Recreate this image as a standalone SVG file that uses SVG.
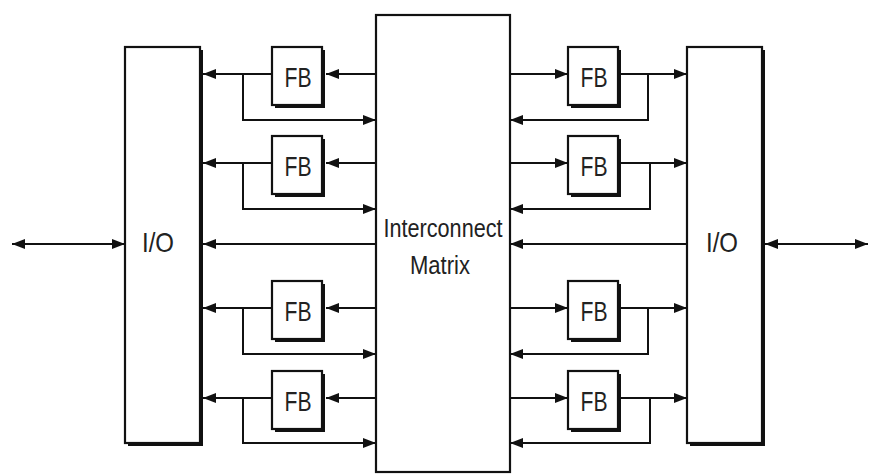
<svg xmlns="http://www.w3.org/2000/svg" width="872" height="475" viewBox="0 0 872 475">
<defs>
<marker id="ah" viewBox="0 0 13 10" refX="13" refY="5" markerWidth="13" markerHeight="10" markerUnits="userSpaceOnUse" orient="auto-start-reverse">
<path d="M0,0 L13,5 L0,10 z" fill="#111"/>
</marker>
<style>
.box{fill:#fff;stroke:#111;stroke-width:2.2}
.sh{fill:#111}
.ln{fill:none;stroke:#111;stroke-width:2}
.t{font-family:"Liberation Sans",Arial,sans-serif;fill:#222;text-anchor:middle}
</style>
</defs>
<rect width="872" height="475" fill="#fff"/>
<g id="io-left">
<rect class="sh" x="128" y="50" width="75" height="396"/>
<rect class="box" x="125" y="47" width="75" height="396"/>
<text class="t" x="158" y="252" font-size="28" textLength="32" lengthAdjust="spacingAndGlyphs">I/O</text>
</g>
<g id="matrix">
<rect class="box" x="376" y="15" width="134" height="457"/>
<text class="t" x="443" y="237" font-size="26" textLength="119" lengthAdjust="spacingAndGlyphs">Interconnect</text>
<text class="t" x="440" y="274" font-size="26" textLength="60" lengthAdjust="spacingAndGlyphs">Matrix</text>
</g>
<g id="io-right">
<rect class="sh" x="690" y="50" width="75" height="396"/>
<rect class="box" x="687" y="47" width="75" height="396"/>
<text class="t" x="722" y="252" font-size="28" textLength="32" lengthAdjust="spacingAndGlyphs">I/O</text>
</g>
<g id="fb-l1"><rect class="sh" x="275" y="50" width="50" height="58"/><rect class="box" x="272" y="47" width="50" height="58"/><text class="t" x="298" y="87" font-size="28" textLength="27" lengthAdjust="spacingAndGlyphs">FB</text></g>
<g id="fb-l2"><rect class="sh" x="275" y="139" width="50" height="58"/><rect class="box" x="272" y="136" width="50" height="58"/><text class="t" x="298" y="176" font-size="28" textLength="27" lengthAdjust="spacingAndGlyphs">FB</text></g>
<g id="fb-l3"><rect class="sh" x="275" y="284" width="50" height="58"/><rect class="box" x="272" y="281" width="50" height="58"/><text class="t" x="298" y="321" font-size="28" textLength="27" lengthAdjust="spacingAndGlyphs">FB</text></g>
<g id="fb-l4"><rect class="sh" x="275" y="374" width="50" height="58"/><rect class="box" x="272" y="371" width="50" height="58"/><text class="t" x="298" y="411" font-size="28" textLength="27" lengthAdjust="spacingAndGlyphs">FB</text></g>
<g id="fb-r1"><rect class="sh" x="571" y="50" width="50" height="58"/><rect class="box" x="568" y="47" width="50" height="58"/><text class="t" x="594" y="87" font-size="28" textLength="27" lengthAdjust="spacingAndGlyphs">FB</text></g>
<g id="fb-r2"><rect class="sh" x="571" y="139" width="50" height="58"/><rect class="box" x="568" y="136" width="50" height="58"/><text class="t" x="594" y="176" font-size="28" textLength="27" lengthAdjust="spacingAndGlyphs">FB</text></g>
<g id="fb-r3"><rect class="sh" x="571" y="284" width="50" height="58"/><rect class="box" x="568" y="281" width="50" height="58"/><text class="t" x="594" y="321" font-size="28" textLength="27" lengthAdjust="spacingAndGlyphs">FB</text></g>
<g id="fb-r4"><rect class="sh" x="571" y="374" width="50" height="58"/><rect class="box" x="568" y="371" width="50" height="58"/><text class="t" x="594" y="411" font-size="28" textLength="27" lengthAdjust="spacingAndGlyphs">FB</text></g>
<g id="connectors">
<path class="ln" d="M12,244 H125" marker-start="url(#ah)" marker-end="url(#ah)"/>
<path class="ln" d="M765,244 H868" marker-start="url(#ah)" marker-end="url(#ah)"/>
<path class="ln" d="M376,244 H203" marker-end="url(#ah)"/>
<path class="ln" d="M687,244 H510" marker-end="url(#ah)"/>
<path class="ln" d="M376,74 H326" marker-end="url(#ah)"/>
<path class="ln" d="M272,74 H203" marker-end="url(#ah)"/>
<path class="ln" d="M243,74 V120 H376" marker-end="url(#ah)"/>
<path class="ln" d="M376,163 H326" marker-end="url(#ah)"/>
<path class="ln" d="M272,163 H203" marker-end="url(#ah)"/>
<path class="ln" d="M243,163 V209 H376" marker-end="url(#ah)"/>
<path class="ln" d="M376,308 H326" marker-end="url(#ah)"/>
<path class="ln" d="M272,308 H203" marker-end="url(#ah)"/>
<path class="ln" d="M243,308 V354 H376" marker-end="url(#ah)"/>
<path class="ln" d="M376,398 H326" marker-end="url(#ah)"/>
<path class="ln" d="M272,398 H203" marker-end="url(#ah)"/>
<path class="ln" d="M243,398 V443 H376" marker-end="url(#ah)"/>
<path class="ln" d="M510,74 H568" marker-end="url(#ah)"/>
<path class="ln" d="M621,74 H687" marker-end="url(#ah)"/>
<path class="ln" d="M648,74 V120 H510" marker-end="url(#ah)"/>
<path class="ln" d="M510,163 H568" marker-end="url(#ah)"/>
<path class="ln" d="M621,163 H687" marker-end="url(#ah)"/>
<path class="ln" d="M650,163 V209 H510" marker-end="url(#ah)"/>
<path class="ln" d="M510,308 H568" marker-end="url(#ah)"/>
<path class="ln" d="M621,308 H687" marker-end="url(#ah)"/>
<path class="ln" d="M648,308 V354 H510" marker-end="url(#ah)"/>
<path class="ln" d="M510,398 H568" marker-end="url(#ah)"/>
<path class="ln" d="M621,398 H687" marker-end="url(#ah)"/>
<path class="ln" d="M650,398 V443 H510" marker-end="url(#ah)"/>
</g>
</svg>
